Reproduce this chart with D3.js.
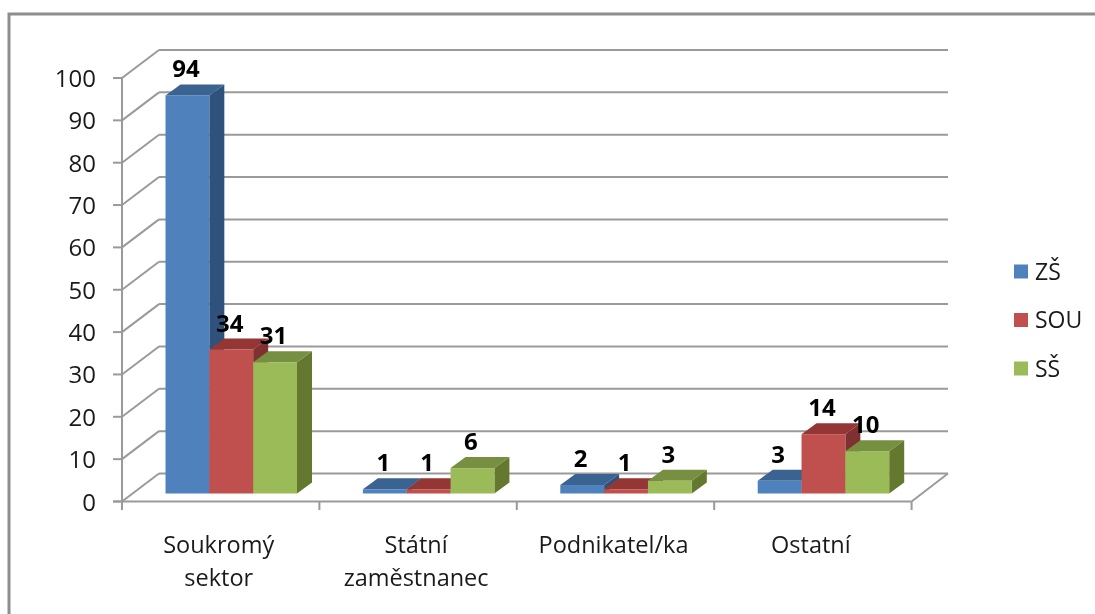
<!DOCTYPE html>
<html><head><meta charset="utf-8">
<script src="https://cdn.jsdelivr.net/npm/d3@7"></script>
<style>html,body{margin:0;background:#fff}svg{display:block}text{font-family:"Open Sans","Noto Sans",sans-serif;fill:#1a1a1a}</style>
</head><body><div id="c"></div>
<script>
const categories=["Soukromý sektor","Státní zaměstnanec","Podnikatel/ka","Ostatní"];
const categoryLines=[["Soukromý","sektor"],["Státní","zaměstnanec"],["Podnikatel/ka"],["Ostatní"]];
const seriesNames=["ZŠ","SOU","SŠ"];
const valuesZS=[94,1,2,3];
const valuesSOU=[34,1,1,14];
const valuesSS=[31,6,3,10];
const yTicks=[0,10,20,30,40,50,60,70,80,90,100];
const colors=[{f:"#4f81bd",t:"#3b6392",s:"#2f527c"},{f:"#c0504d",t:"#943634",s:"#7e3130"},{f:"#9bbb59",t:"#768f40",s:"#64782f"}];

const W=1095,H=614,dx=37,dy=-28,floorInset=8;
const svg=d3.select("#c").append("svg").attr("width",W).attr("height",H);
const root=svg.append("g").style("filter","blur(0.5px)");
root.append("path").attr("d",`M9,${H}V14H${W}`).attr("fill","none").attr("stroke","#8e8e8e").attr("stroke-width",3);

const x=d3.scaleBand().domain(categories).range([122,911.6]);
const y=d3.scaleLinear().domain([0,100]).range([501.5,78]);
const inner=d3.scaleBand().domain(seriesNames).range([43.5,43.5+131.5]);
const grid="#9a9a9a";
const line=(x1,y1,x2,y2)=>root.append("line").attr("x1",x1).attr("y1",y1).attr("x2",x2).attr("y2",y2).attr("stroke",grid).attr("stroke-width",2);

yTicks.forEach(v=>{
  const p=y(v);
  line(122,p,122+dx,p+dy);
  line(122+dx,p+dy,948,p+dy);
  line(113,p,122,p);
  root.append("text").attr("x",96).attr("y",p+9).attr("text-anchor","end").attr("font-size",24).text(v);
});
line(122,y(100),122,510);
line(113,y(0),x.range()[1],y(0));
line(x.range()[1],y(0),948,y(0)+dy);
[...categories.map(c=>x(c)),x.range()[1]].forEach(p=>line(p,y(0),p,510));

categories.forEach((c,i)=>{
  categoryLines[i].forEach((t,j)=>root.append("text").attr("x",x(c)+x.bandwidth()/2-2).attr("y",553+j*33).attr("text-anchor","middle").attr("font-size",23.5).text(t));
});

const series=[valuesZS,valuesSOU,valuesSS];
const bw=inner.bandwidth(),ddx=15,ddy=-11;
const labels=[];
categories.forEach((c,i)=>{
  series.forEach((vals,k)=>{
    const x0=x(c)+inner(seriesNames[k]),b=y(0)-floorInset,h=y(0)-y(vals[i]),t=b-h,col=colors[k];
    root.append("path").attr("d",`M${x0+bw},${t}l${ddx},${ddy}V${b+ddy}L${x0+bw},${b}Z`).attr("fill",col.s);
    root.append("path").attr("d",`M${x0},${t}l${ddx},${ddy}h${bw}l${-ddx},${-ddy}Z`).attr("fill",col.t);
    root.append("rect").attr("x",x0).attr("y",t).attr("width",bw).attr("height",h).attr("fill",col.f);
    labels.push({x:x0+bw/2-1.5,y:t+ddy-7,v:vals[i]});
  });
});
labels.forEach(l=>root.append("text").attr("x",l.x).attr("y",l.y).attr("text-anchor","middle").attr("font-size",24).attr("font-weight",700).style("fill","#000").text(l.v));

seriesNames.forEach((n,k)=>{
  const cy=271.5+k*48.5;
  root.append("rect").attr("x",1014).attr("y",cy-7).attr("width",14).attr("height",14).attr("fill",colors[k].f);
  root.append("text").attr("x",1035).attr("y",cy+8).attr("font-size",23).text(n);
});
</script></body></html>
